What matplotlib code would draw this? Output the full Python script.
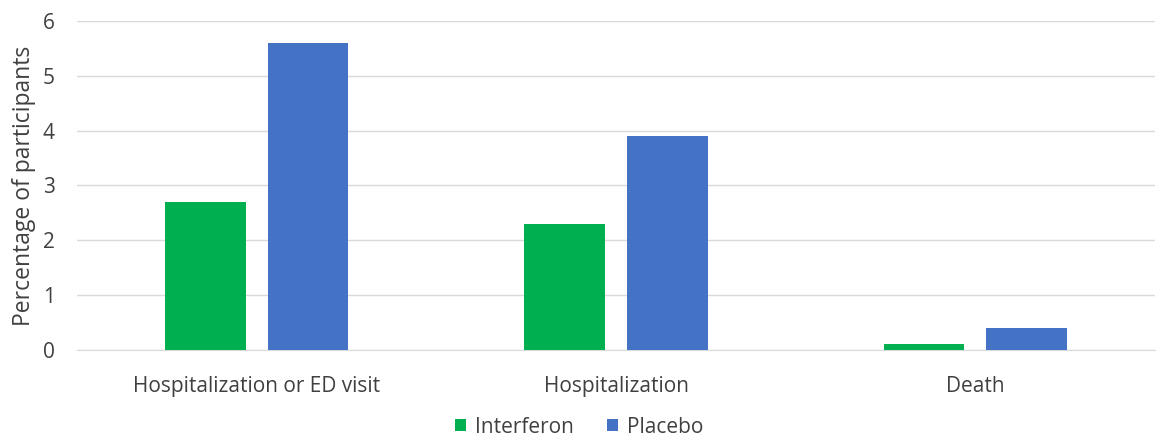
import matplotlib
matplotlib.use("Agg")
import matplotlib.pyplot as plt
import numpy as np

plt.rcParams['font.family'] = ['Open Sans', 'DejaVu Sans']

categories = ["Hospitalization or ED visit", "Hospitalization", "Death"]
interferon = [2.7, 2.3, 0.1]
placebo = [5.6, 3.9, 0.4]
series_names = ["Interferon", "Placebo"]
colors = ["#00B050", "#4472C4"]

fig = plt.figure(figsize=(11.59, 4.38), dpi=100)
ax = fig.add_axes([0.0665, 0.201, 0.930, 0.751])

x = np.arange(len(categories))
width = 0.224
offset = 0.143
ax.bar(x - offset, interferon, width, color=colors[0], label=series_names[0], zorder=3)
ax.bar(x + offset, placebo, width, color=colors[1], label=series_names[1], zorder=3)

ax.set_xlim(-0.5, len(categories) - 0.5)
ax.set_ylim(0, 6)
ax.set_yticks(range(0, 7))
ax.set_xticks(x)
ax.set_xticklabels(categories)
ax.yaxis.grid(True, color="#d9d9d9", linewidth=1)
ax.set_axisbelow(True)
for s in ["top", "right", "left"]:
    ax.spines[s].set_visible(False)
ax.spines["bottom"].set_color("#d9d9d9")
ax.tick_params(axis="both", length=0, labelsize=15, colors="#404040")
ax.tick_params(axis="x", pad=19)
ax.tick_params(axis="y", pad=16)
ax.set_ylabel("Percentage of participants", fontsize=16.5, color="#404040", labelpad=5)

leg = fig.legend(loc="center", bbox_to_anchor=(0.5, 0.025), ncol=2, frameon=False,
                 fontsize=15, handlelength=0.5, handleheight=0.5, handletextpad=0.45,
                 columnspacing=1.6)
for t in leg.get_texts():
    t.set_color("#404040")

fig.savefig("out.png", dpi=100)
